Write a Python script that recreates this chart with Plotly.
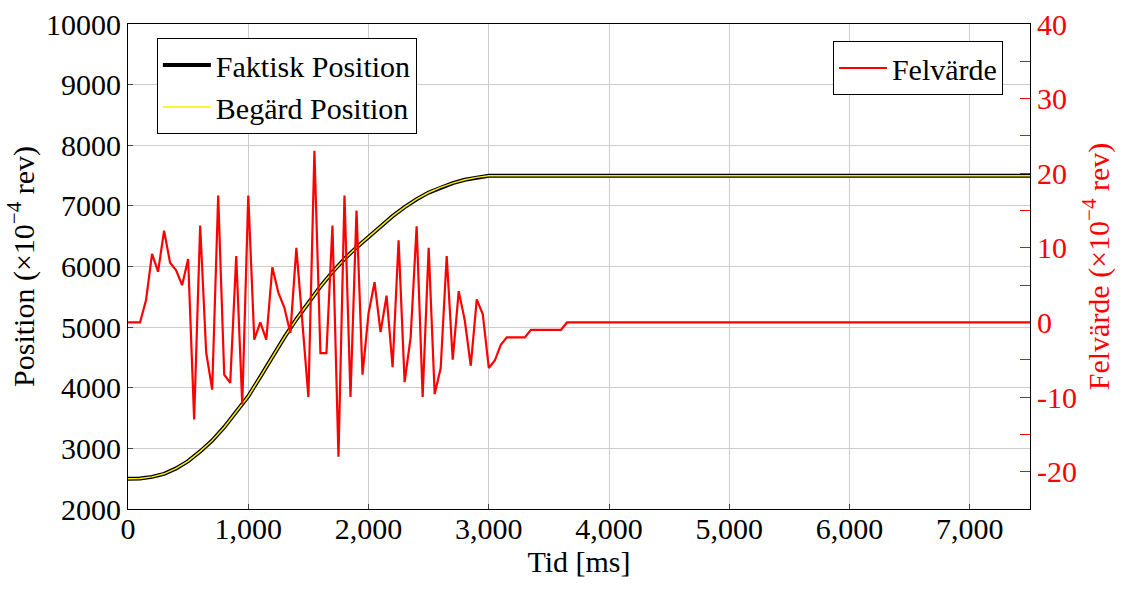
import plotly.graph_objects as go

# ---- data ----
pos_t = [0, 100, 200, 300, 400, 500, 600, 700, 800, 900, 1000,
         1100, 1200, 1300, 1400, 1500, 1600, 1700, 1800, 1900, 2000,
         2100, 2200, 2300, 2400, 2500, 2600, 2700, 2800, 2900, 3000, 7500]
faktisk = [2500, 2505, 2530, 2580, 2670, 2790, 2950, 3130, 3350, 3600, 3860,
           4180, 4510, 4830, 5130, 5410, 5670, 5910, 6125, 6315, 6490,
           6665, 6830, 6980, 7110, 7220, 7305, 7375, 7430, 7470, 7495, 7495]
begard = [2500, 2505, 2530, 2580, 2670, 2790, 2950, 3130, 3350, 3600, 3860,
          4180, 4510, 4830, 5130, 5410, 5670, 5910, 6125, 6315, 6490,
          6665, 6830, 6980, 7110, 7220, 7305, 7375, 7430, 7470, 7495, 7495]

err_t = [0, 50, 100, 150, 200, 250, 300, 350, 400, 450, 500, 550, 600, 650,
         700, 750, 800, 850, 900, 950, 1000, 1050, 1100, 1150, 1200, 1250,
         1300, 1350, 1400, 1450, 1500, 1550, 1600, 1650, 1700, 1750, 1800,
         1850, 1900, 1950, 2000, 2050, 2100, 2150, 2200, 2250, 2300, 2350,
         2400, 2450, 2500, 2550, 2600, 2650, 2700, 2750, 2800, 2850, 2900,
         2950, 3000, 3050, 3100, 3150, 3200, 3250, 3300, 3350, 3400, 3450,
         3500, 3550, 3600, 3650, 7500]
felvarde = [0, 0, 0, 3, 9.2, 6.8, 12.3, 8, 7, 5, 8.5, -13, 13, -4,
            -9, 17, -7, -8.1, 8.9, -11, 17, -2.3, 0, -2.3, 7.4, 4,
            2, -1.4, 10, 0, -10, 23, -4.1, -4.1, 13, -18, 17,
            -10, 15, -7, 1.2, 5.4, -1.3, 3.6, -6, 11, -8, -2,
            12.9, -10, 10, -9.6, -6.1, 8.9, -5, 4.2, 0.3, -5.8, 3.1,
            1.1, -6.1, -5.1, -3, -2, -2, -2, -2, -1, -1, -1,
            -1, -1, -1, 0, 0]

x_ticks = [0, 1000, 2000, 3000, 4000, 5000, 6000, 7000]
y_ticks = [2000, 3000, 4000, 5000, 6000, 7000, 8000, 9000, 10000]
y2_ticks = [-20, -10, 0, 10, 20, 30, 40]
y2_labels = ["-20", "-10", "0", "10", "20", "30", "40"]

FONT = "Liberation Serif, DejaVu Serif, serif"
FS = 30
GRID = "#cccccc"

fig = go.Figure()
fig.add_trace(go.Scatter(x=pos_t, y=faktisk, mode="lines", name="Faktisk Position",
                         line=dict(color="black", width=4), legend="legend"))
fig.add_trace(go.Scatter(x=pos_t, y=begard, mode="lines", name="Begärd Position",
                         line=dict(color="#ffee00", width=1.5), legend="legend"))
fig.add_trace(go.Scatter(x=err_t, y=felvarde, mode="lines", name="Felvärde",
                         line=dict(color="red", width=2.2), yaxis="y2", legend="legend2"))

fig.update_layout(
    template="none",
    width=1133, height=594,
    margin=dict(l=128, r=103, t=24, b=85),
    paper_bgcolor="white", plot_bgcolor="white",
    font=dict(family=FONT, size=FS, color="black"),
    xaxis=dict(range=[0, 7500], tickvals=x_ticks, tickformat=",d",
               showgrid=True, gridcolor=GRID, gridwidth=1, zeroline=False,
               showline=True, linecolor="black", linewidth=1.2, mirror=True,
               ticks="inside", ticklen=5, tickcolor="#444",
               ticklabelstandoff=-7,
               title=dict(text="Tid [ms]", standoff=6, font=dict(size=FS))),
    yaxis=dict(range=[2000, 10000], tickvals=y_ticks, tickformat="d",
               showgrid=True, gridcolor=GRID, gridwidth=1, zeroline=False,
               showline=True, linecolor="black", linewidth=1.2, mirror=True,
               ticks="inside", ticklen=5, tickcolor="#444",
               title=dict(text="Position (×10<sup>−4</sup> rev)", standoff=2,
                          font=dict(size=FS))),
    yaxis2=dict(range=[-25, 40], overlaying="y", side="right",
                tickvals=y2_ticks, ticktext=y2_labels,
                showgrid=False, zeroline=False,
                showline=True, linecolor="black", linewidth=1.2,
                ticks="inside", ticklen=10, tickcolor="red",
                tickfont=dict(color="red", size=FS),
                minor=dict(dtick=5, ticks="inside", ticklen=10, tickcolor="red",
                           showgrid=False),
                title=dict(text="Felvärde (×10<sup>−4</sup> rev)", standoff=10,
                           font=dict(color="red", size=FS))),
    legend=dict(x=0.032, y=0.971, xanchor="left", yanchor="top",
                bgcolor="white", bordercolor="black", borderwidth=1,
                font=dict(size=FS), tracegroupgap=0, itemwidth=48),
    legend2=dict(x=0.970, y=0.965, xanchor="right", yanchor="top",
                 bgcolor="white", bordercolor="black", borderwidth=1,
                 font=dict(size=FS), itemwidth=48),
    showlegend=True,
)

fig.write_html("out.html")
